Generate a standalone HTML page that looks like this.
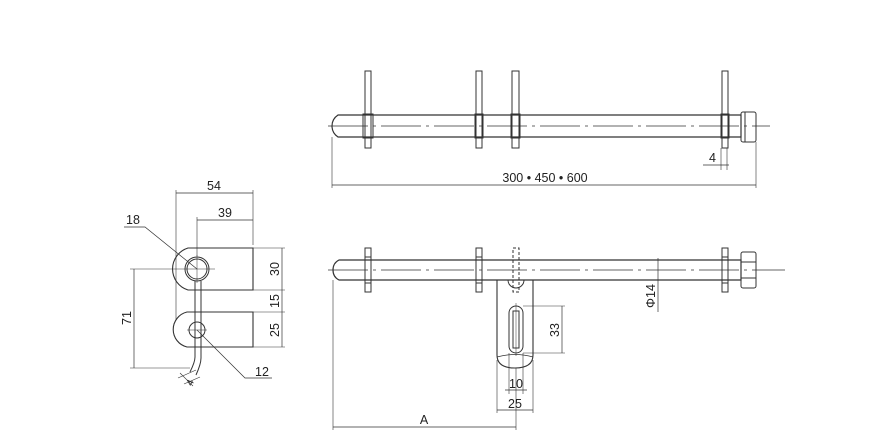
<!DOCTYPE html>
<html><head><meta charset="utf-8"><style>
html,body{margin:0;padding:0;background:#fff;}
svg{display:block;}
text{font-family:"Liberation Sans",sans-serif;font-size:12.5px;fill:#222;}
</style></head><body>
<svg width="894" height="448" viewBox="0 0 894 448" xmlns="http://www.w3.org/2000/svg">
<g fill="none" stroke="#333" stroke-width="1">
<!-- TOP VIEW -->
<path d="M338 115 L741 115 L741 137 L338 137 Q332 133 332 126 Q332 119 338 115 Z" stroke-width="1.2"/>
<line x1="328" y1="126" x2="770" y2="126" stroke-width="0.7" stroke-dasharray="40,5,3,5"/>
<rect x="365" y="71" width="6" height="77"/>
<rect x="363" y="114" width="10" height="24"/>
<rect x="476" y="71" width="6" height="77"/>
<rect x="475" y="114" width="8" height="24"/>
<rect x="512" y="71" width="7" height="77"/>
<rect x="511" y="114" width="9" height="24"/>
<rect x="722" y="71" width="6" height="77"/>
<rect x="721" y="114" width="8" height="24"/>
<rect x="741" y="112" width="15" height="30" rx="2"/>
<line x1="745" y1="112" x2="745" y2="142"/>
<line x1="721" y1="148" x2="721" y2="170" stroke-width="0.6"/>
<line x1="727" y1="148" x2="727" y2="170" stroke-width="0.6"/>
<line x1="703" y1="165" x2="729" y2="165" stroke-width="0.7"/>
<line x1="332" y1="137" x2="332" y2="188" stroke-width="0.6"/>
<line x1="756" y1="142" x2="756" y2="188" stroke-width="0.6"/>
<line x1="332" y1="185" x2="756" y2="185" stroke-width="0.7"/>

<!-- BOTTOM VIEW -->
<path d="M339 260 L741 260 L741 280 L339 280 Q333 277 333 270 Q333 263 339 260 Z" stroke-width="1.2"/>
<line x1="328" y1="270" x2="785" y2="270" stroke-width="0.7" stroke-dasharray="40,5,3,5"/>
<rect x="365" y="248" width="6" height="44"/>
<line x1="365" y1="257" x2="371" y2="257"/><line x1="365" y1="283" x2="371" y2="283"/>
<rect x="476" y="248" width="6" height="44"/>
<line x1="476" y1="257" x2="482" y2="257"/><line x1="476" y1="283" x2="482" y2="283"/>
<rect x="513" y="248" width="6" height="44" stroke-dasharray="3,2"/>
<rect x="722" y="248" width="6" height="44"/>
<line x1="722" y1="257" x2="728" y2="257"/><line x1="722" y1="283" x2="728" y2="283"/>
<rect x="741" y="252" width="15" height="36" rx="2"/>
<line x1="741" y1="262" x2="756" y2="262"/><line x1="741" y1="278" x2="756" y2="278"/>
<path d="M497 280 L533 280 L533 355 Q533 368 515 368 Q497 368 497 355 Z" stroke-width="1.1"/>
<path d="M497 357 Q515 352 533 357" stroke-width="0.8"/>
<path d="M508 280 A8 8 0 0 0 524 280" />
<rect x="509" y="306" width="14" height="47" rx="7"/>
<rect x="513" y="311" width="6" height="37"/>
<line x1="516" y1="303" x2="516" y2="356" stroke-width="0.5"/>
<line x1="523" y1="306" x2="565" y2="306" stroke-width="0.6"/>
<line x1="523" y1="353" x2="565" y2="353" stroke-width="0.6"/>
<line x1="562" y1="306" x2="562" y2="353" stroke-width="0.7"/>
<line x1="658" y1="258" x2="658" y2="312" stroke-width="0.7"/>
<line x1="509" y1="353" x2="509" y2="394" stroke-width="0.6"/>
<line x1="523" y1="353" x2="523" y2="394" stroke-width="0.6"/>
<line x1="505" y1="390" x2="527" y2="390" stroke-width="0.7"/>
<line x1="497" y1="360" x2="497" y2="413" stroke-width="0.6"/>
<line x1="533" y1="360" x2="533" y2="413" stroke-width="0.6"/>
<line x1="497" y1="410" x2="533" y2="410" stroke-width="0.7"/>
<line x1="333" y1="280" x2="333" y2="430" stroke-width="0.6"/>
<line x1="516" y1="368" x2="516" y2="430" stroke-width="0.6"/>
<line x1="333" y1="427" x2="516" y2="427" stroke-width="0.7"/>

<!-- SIDE VIEW -->
<path d="M253 248 L188 248 A22 22 0 0 0 188 290 L253 290 Z" stroke-width="1.1"/>
<circle cx="197" cy="269" r="12"/>
<circle cx="197" cy="269" r="10"/>
<path d="M253 312 L187 312 A18 18 0 0 0 187 347 L253 347 Z" stroke-width="1.1"/>
<circle cx="197" cy="330" r="8"/>
<path d="M195 281 L195 357 Q195 362 190 372 M201 281 L201 358 Q201 364 196 375" stroke-width="1"/>
<line x1="185" y1="269" x2="215" y2="269" stroke-width="0.5"/>
<line x1="197" y1="255" x2="197" y2="283" stroke-width="0.5"/>
<line x1="187" y1="330" x2="207" y2="330" stroke-width="0.5"/>
<line x1="176" y1="190" x2="176" y2="320" stroke-width="0.6"/>
<line x1="197" y1="217" x2="197" y2="256" stroke-width="0.6"/>
<line x1="253" y1="190" x2="253" y2="245" stroke-width="0.6"/>
<line x1="176" y1="193" x2="253" y2="193" stroke-width="0.7"/>
<line x1="197" y1="220" x2="253" y2="220" stroke-width="0.7"/>
<line x1="253" y1="248" x2="285" y2="248" stroke-width="0.6"/>
<line x1="253" y1="290" x2="285" y2="290" stroke-width="0.6"/>
<line x1="253" y1="312" x2="285" y2="312" stroke-width="0.6"/>
<line x1="253" y1="347" x2="285" y2="347" stroke-width="0.6"/>
<line x1="282" y1="248" x2="282" y2="347" stroke-width="0.7"/>
<line x1="130" y1="269" x2="185" y2="269" stroke-width="0.6"/>
<line x1="130" y1="368" x2="190" y2="368" stroke-width="0.6"/>
<line x1="134" y1="269" x2="134" y2="368" stroke-width="0.7"/>
<polyline points="124,227 145,227 197,269" stroke-width="0.7"/>
<polyline points="197,330 245,378 272,378" stroke-width="0.7"/>
<line x1="180" y1="373" x2="193" y2="386" stroke-width="0.6"/>
<line x1="178" y1="378" x2="196" y2="370" stroke-width="0.6"/>
<line x1="184" y1="384" x2="200" y2="377" stroke-width="0.6"/>
</g>
<g>
<text x="709" y="162">4</text>
<text x="545" y="182" text-anchor="middle">300 • 450 • 600</text>
<text x="516" y="388" text-anchor="middle">10</text>
<text x="515" y="408" text-anchor="middle">25</text>
<text x="424" y="424" text-anchor="middle">A</text>
<text transform="translate(559,330) rotate(-90)" text-anchor="middle">33</text>
<text transform="translate(655,296) rotate(-90)" text-anchor="middle">Φ14</text>
<text x="214" y="190" text-anchor="middle">54</text>
<text x="225" y="217" text-anchor="middle">39</text>
<text x="133" y="224" text-anchor="middle">18</text>
<text x="262" y="376" text-anchor="middle">12</text>
<text transform="translate(279,269) rotate(-90)" text-anchor="middle">30</text>
<text transform="translate(279,301) rotate(-90)" text-anchor="middle">15</text>
<text transform="translate(279,330) rotate(-90)" text-anchor="middle">25</text>
<text transform="translate(131,318) rotate(-90)" text-anchor="middle">71</text>
<text transform="translate(193,384) rotate(-65)" text-anchor="middle" style="font-size:10px">4</text>
</g>
</svg>
</body></html>
